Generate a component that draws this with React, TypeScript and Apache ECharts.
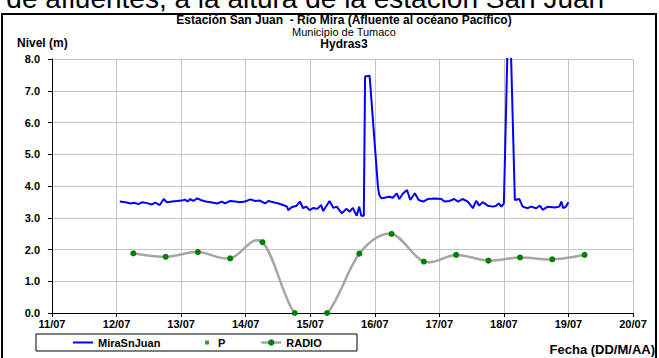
import React, { useEffect, useRef } from "react";
import * as echarts from "echarts";

// Day of July (fractional) and level in metres for the MiraSnJuan series
const miraDays = [
  12.05, 12.14, 12.22, 12.27, 12.34, 12.4, 12.47, 12.55, 12.6, 12.67, 12.73, 12.78, 12.86, 12.94,
  13.01, 13.06, 13.1, 13.14, 13.19, 13.25, 13.3, 13.38, 13.46, 13.56, 13.63, 13.68, 13.76, 13.84,
  13.91, 13.99, 14.07, 14.15, 14.22, 14.3, 14.35, 14.43, 14.51, 14.58, 14.64, 14.66, 14.71, 14.79,
  14.84, 14.89, 14.94, 14.99, 15.05, 15.11, 15.17, 15.2, 15.3, 15.36, 15.41, 15.49, 15.56, 15.61,
  15.66, 15.72, 15.76, 15.79, 15.83, 15.85, 15.92, 16.05, 16.07, 16.1, 16.15, 16.23, 16.28, 16.34,
  16.38, 16.44, 16.5, 16.55, 16.62, 16.68, 16.75, 16.82, 16.93, 17.03, 17.08, 17.16, 17.23, 17.29,
  17.36, 17.44, 17.49, 17.52, 17.57, 17.62, 17.67, 17.75, 17.83, 17.88, 17.92, 17.96, 18.0, 18.08,
  18.17, 18.24, 18.29, 18.37, 18.42, 18.5, 18.56, 18.6, 18.68, 18.79, 18.86, 18.89, 18.92, 18.96,
  19.0,
];
const miraLevels = [
  3.51, 3.49, 3.45, 3.47, 3.43, 3.49, 3.46, 3.42, 3.48, 3.4, 3.59, 3.49, 3.51, 3.53,
  3.54, 3.57, 3.51, 3.59, 3.53, 3.61, 3.56, 3.51, 3.49, 3.45, 3.51, 3.45, 3.53, 3.51,
  3.49, 3.51, 3.58, 3.53, 3.54, 3.45, 3.53, 3.49, 3.45, 3.4, 3.35, 3.24, 3.33, 3.38,
  3.51, 3.3, 3.35, 3.24, 3.31, 3.28, 3.4, 3.21, 3.53, 3.31, 3.35, 3.14, 3.28, 3.19,
  3.31, 3.06, 3.35, 3.06, 3.06, 7.45, 7.47, 3.95, 3.72, 3.61, 3.63, 3.66, 3.63, 3.77,
  3.59, 3.77, 3.87, 3.56, 3.77, 3.56, 3.51, 3.59, 3.61, 3.59, 3.51, 3.53, 3.59, 3.51,
  3.59, 3.51, 3.38, 3.3, 3.53, 3.38, 3.49, 3.38, 3.35, 3.38, 3.45, 3.35, 3.45, 10.5,
  3.56, 3.59, 3.35, 3.3, 3.35, 3.3, 3.38, 3.25, 3.35, 3.32, 3.35, 3.51, 3.3, 3.35,
  3.49,
];

// RADIO / P readings (twice a day)
const radioDays = [
  12.26, 12.76, 13.26, 13.76, 14.26, 14.76, 15.26, 15.76, 16.26, 16.76, 17.26, 17.76, 18.25, 18.75, 19.25,
];
const radioLevels = [
  1.88, 1.77, 1.92, 1.72, 2.23, 0, 0, 1.87, 2.49, 1.62, 1.83, 1.65, 1.75, 1.69, 1.83,
];

const xTickLabels = ["11/07", "12/07", "13/07", "14/07", "15/07", "16/07", "17/07", "18/07", "19/07", "20/07"];
const yTickLabels = ["0.0", "1.0", "2.0", "3.0", "4.0", "5.0", "6.0", "7.0", "8.0"];

const FONT = "'Liberation Sans', Arial, sans-serif";

export default function App() {
  const ref = useRef<HTMLDivElement>(null);

  useEffect(() => {
    if (!ref.current) return;
    const chart = echarts.init(ref.current, undefined, { renderer: "svg" });

    const miraData = miraDays.map((d, i) => [d, miraLevels[i]]);
    const radioData = radioDays.map((d, i) => [d, radioLevels[i]]);
    const n = radioDays.length;
    const clampIdx = (k: number) => Math.max(0, Math.min(n - 1, k));

    const legendText = { fontFamily: FONT, fontWeight: "bold", fontSize: 11, color: "#000" };

    chart.setOption({
      animation: false,
      backgroundColor: "#ffffff",
      textStyle: { fontFamily: FONT },
      grid: { left: 52, right: 26, top: 59, bottom: 45, containLabel: false },
      xAxis: {
        type: "value",
        min: 11,
        max: 20,
        interval: 1,
        axisLine: { show: true, onZero: false, lineStyle: { color: "#000", width: 1 } },
        axisTick: { show: true, length: 4, lineStyle: { color: "#000" } },
        axisLabel: {
          margin: 5,
          fontFamily: FONT,
          fontWeight: "bold",
          fontSize: 11,
          color: "#000",
          formatter: (v: number) => xTickLabels[Math.round(v - 11)] ?? "",
        },
        splitLine: { show: true, lineStyle: { color: "#c4c4c4", width: 1 } },
      },
      yAxis: {
        type: "value",
        min: 0,
        max: 8,
        interval: 1,
        axisLine: { show: true, lineStyle: { color: "#000", width: 1 } },
        axisTick: { show: true, length: 4, lineStyle: { color: "#000" } },
        axisLabel: {
          margin: 12,
          fontFamily: FONT,
          fontWeight: "bold",
          fontSize: 11,
          color: "#000",
          formatter: (v: number) => yTickLabels[Math.round(v)] ?? "",
        },
        splitLine: { show: true, lineStyle: { color: "#c4c4c4", width: 1 } },
      },
      legend: [
        {
          data: ["MiraSnJuan"],
          left: 73,
          top: 337,
          padding: 0,
          icon: "rect",
          itemWidth: 20,
          itemHeight: 2,
          textStyle: legendText,
        },
        {
          data: ["P"],
          left: 205,
          top: 337,
          padding: 0,
          icon: "rect",
          itemWidth: 4,
          itemHeight: 4,
          textStyle: { ...legendText, padding: [0, 0, 0, 4] },
        },
        {
          data: ["RADIO"],
          left: 260,
          top: 337,
          padding: 0,
          itemWidth: 20,
          itemHeight: 8,
          lineStyle: { color: "#a6a6a6", width: 2.5, opacity: 1 },
          textStyle: legendText,
        },
      ],
      graphic: [
        {
          type: "text",
          x: -17,
          y: 12.5,
          silent: true,
          style: {
            text: "o de afluentes, a la altura de la estación San Juan",
            font: "28px " + FONT,
            fill: "#000",
            verticalAlign: "bottom",
          },
        },
        {
          type: "rect",
          shape: { x: 2, y: 14, width: 654, height: 350 },
          style: { fill: "none", stroke: "#000", lineWidth: 2 },
          silent: true,
        },
        {
          type: "text",
          x: 344,
          y: 20,
          style: {
            text: "Estación San Juan  - Río Mira (Afluente al océano Pacífico)",
            font: "bold 12px " + FONT,
            lineHeight: 12,
            fill: "#000",
            align: "center",
            verticalAlign: "middle",
          },
        },
        {
          type: "text",
          x: 344,
          y: 31.5,
          style: {
            text: "Municipio de Tumaco",
            font: "11px " + FONT,
            lineHeight: 11,
            fill: "#000",
            align: "center",
            verticalAlign: "middle",
          },
        },
        {
          type: "text",
          x: 344,
          y: 43.5,
          style: {
            text: "Hydras3",
            font: "bold 12px " + FONT,
            lineHeight: 12,
            fill: "#000",
            align: "center",
            verticalAlign: "middle",
          },
        },
        {
          type: "text",
          x: 17,
          y: 43,
          style: {
            text: "Nivel (m)",
            font: "bold 12px " + FONT,
            fill: "#000",
            align: "left",
            verticalAlign: "middle",
          },
        },
        {
          type: "text",
          x: 655,
          y: 349,
          style: {
            text: "Fecha (DD/M/AA)",
            font: "bold 13px " + FONT,
            fill: "#000",
            align: "right",
            verticalAlign: "middle",
          },
        },
        {
          type: "rect",
          shape: { x: 36, y: 334, width: 321, height: 17 },
          style: { fill: "none", stroke: "#000", lineWidth: 1 },
          silent: true,
        },
      ],
      series: [
        {
          name: "MiraSnJuan",
          type: "line",
          data: miraData,
          symbol: "none",
          clip: true,
          lineStyle: { color: "#0000ff", width: 2 },
          itemStyle: { color: "#0000ff" },
          z: 3,
        },
        {
          name: "P",
          type: "scatter",
          data: radioData,
          symbol: "rect",
          symbolSize: 4,
          itemStyle: { color: "#008000" },
          z: 2,
        },
        {
          name: "RADIO-curve",
          type: "custom",
          data: radioData,
          encode: { x: 0, y: 1 },
          clip: true,
          silent: true,
          z: 3,
          renderItem: (params: any, api: any) => {
            const i = params.dataIndex;
            if (i >= n - 1) return null;
            const pt = (k: number) => {
              const c = clampIdx(k);
              return api.coord([radioDays[c], radioLevels[c]]);
            };
            const p0 = pt(i - 1);
            const p1 = pt(i);
            const p2 = pt(i + 1);
            const p3 = pt(i + 2);
            const t = 1 / 6;
            return {
              type: "bezierCurve",
              shape: {
                x1: p1[0],
                y1: p1[1],
                x2: p2[0],
                y2: p2[1],
                cpx1: p1[0] + (p2[0] - p0[0]) * t,
                cpy1: p1[1] + (p2[1] - p0[1]) * t,
                cpx2: p2[0] - (p3[0] - p1[0]) * t,
                cpy2: p2[1] - (p3[1] - p1[1]) * t,
              },
              style: { stroke: "#a6a6a6", lineWidth: 2.5, fill: null },
            };
          },
        },
        {
          name: "RADIO",
          type: "line",
          data: radioData,
          clip: true,
          symbol: "circle",
          symbolSize: 6,
          showSymbol: true,
          lineStyle: { color: "#a6a6a6", width: 2.5, opacity: 0 },
          itemStyle: { color: "#008000", borderWidth: 0 },
          z: 4,
        },
      ],
    });

    return () => chart.dispose();
  }, []);

  return (
    <div
      ref={ref}
      style={{ position: "fixed", left: 0, top: 0, width: 659, height: 358, background: "#fff" }}
    />
  );
}
